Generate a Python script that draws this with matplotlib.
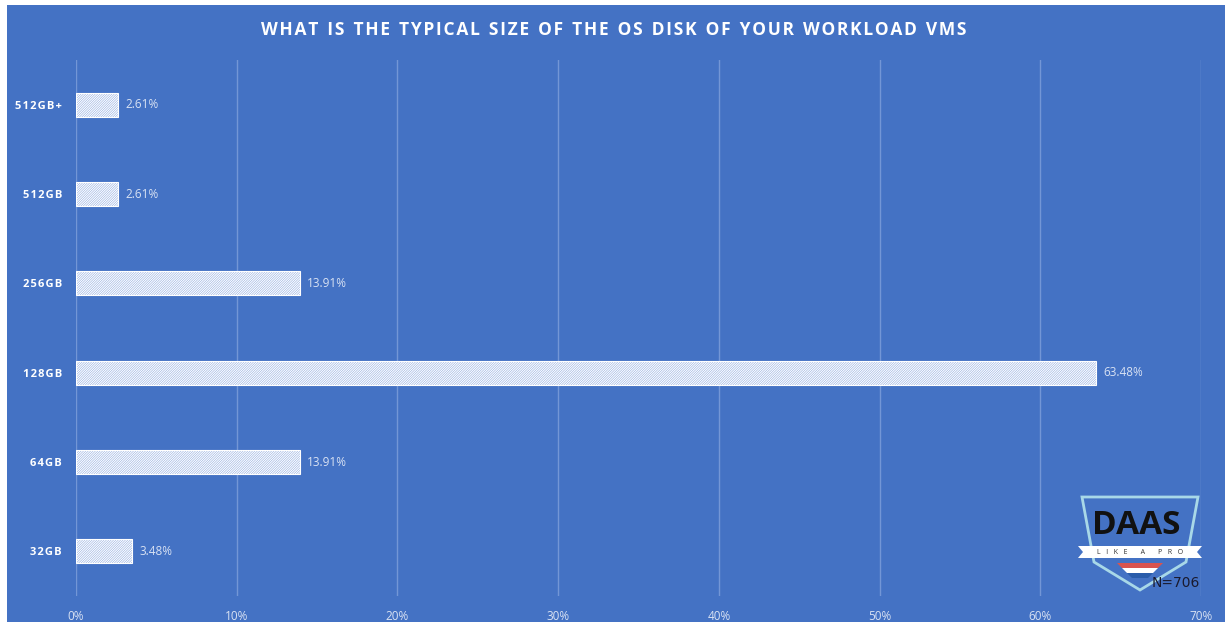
import matplotlib
matplotlib.use("Agg")
import matplotlib.pyplot as plt
from matplotlib.patches import Polygon, Rectangle
import numpy as np

# data
categories = ["512GB+", "512GB", "256GB", "128GB", "64GB", "32GB"]
values = [2.61, 2.61, 13.91, 63.48, 13.91, 3.48]
xticks = [0, 10, 20, 30, 40, 50, 60, 70]
title = "WHAT IS THE TYPICAL SIZE OF THE OS DISK OF YOUR WORKLOAD VMS"
n_label = "N=706"

BLUE = "#4472C4"
GRID = "#7396D6"
LIGHT = "#D9E2F3"
W, H = 1225, 627

plt.rcParams['font.family'] = ['Open Sans', 'DejaVu Sans']
plt.rcParams['hatch.linewidth'] = 0.8
plt.rcParams['hatch.color'] = 'white'

fig = plt.figure(figsize=(12.25, 6.27), dpi=100)
fig.patch.set_facecolor("white")

def px(x, y):
    return x / W, 1 - y / H

# blue panel
bx, by = px(7, 622)
fig.patches.append(Rectangle((bx, by), 1 - bx, 1 - 5 / H - by, transform=fig.transFigure,
                             facecolor=BLUE, edgecolor="none", zorder=-10))

l, t = px(76, 60)
r, b = px(1201, 596)
ax = fig.add_axes([l, b, r - l, t - b])
ax.set_facecolor("none")

ypos = np.arange(len(categories))
ax.barh(ypos, values, height=0.27, facecolor="#8FABE0", edgecolor="white",
        hatch="/" * 14, linewidth=0.8, zorder=3)
for y, v in zip(ypos, values):
    ax.text(v + 0.45, y, f"{v:.2f}%", va="center", ha="left", fontsize=8.5, color=LIGHT, zorder=4)

ax.set_xlim(0, 70)
ax.set_ylim(len(categories) - 0.5, -0.5)
ax.set_xticks(xticks)
ax.set_xticklabels([f"{x}%" for x in xticks])
ax.set_yticks(ypos)
ax.set_yticklabels(["\u200a".join(c) for c in categories])
ax.tick_params(axis="x", length=0, pad=10, labelsize=8.5, labelcolor=LIGHT)
ax.tick_params(axis="y", length=0, pad=10, labelsize=8)
for lab in ax.get_yticklabels():
    lab.set_color("white")
    lab.set_fontweight("bold")
ax.grid(axis="x", color=GRID, linewidth=1, zorder=1)
for s in ax.spines.values():
    s.set_visible(False)

tx, ty = px(614, 30)
fig.text(tx, ty, "\u200a".join(title).replace("\u200a \u200a", "  "), ha="center", va="center",
         fontsize=12.5, fontweight="bold", color="white")

# logo
def fpoly(pts, **kw):
    fig.patches.append(Polygon([px(*p) for p in pts], closed=True, transform=fig.transFigure, **kw))

fpoly([(1082, 497), (1198, 497), (1186, 562), (1140, 590), (1094, 562)],
      facecolor="none", edgecolor="#A8D8E8", linewidth=2, zorder=5)
fx, fy = px(1136, 526)
fig.text(fx, fy, "DAAS", ha="center", va="center", fontsize=24, fontweight="bold",
         color="#111111", zorder=6)
fpoly([(1078, 546), (1202, 546), (1197, 552), (1202, 558), (1078, 558), (1083, 552)],
      facecolor="white", edgecolor="none", zorder=6)
fx, fy = px(1140, 552)
fig.text(fx, fy, "L   I   K   E       A       P   R   O", ha="center", va="center", fontsize=5,
         color="#333333", zorder=7)
fpoly([(1117, 563), (1163, 563), (1158, 568), (1122, 568)], facecolor="#D9534F", edgecolor="none", zorder=6)
fpoly([(1122, 568), (1158, 568), (1153, 573), (1127, 573)], facecolor="white", edgecolor="none", zorder=6)
fpoly([(1127, 573), (1153, 573), (1148, 578), (1132, 578)], facecolor="#2A5CAA", edgecolor="none", zorder=6)
fx, fy = px(1176, 583)
fig.text(fx, fy, n_label, ha="center", va="center", fontsize=10, color="#1A1A2E",
         family="DejaVu Sans", zorder=7)

fig.savefig("out.png", dpi=100, facecolor=fig.get_facecolor())
